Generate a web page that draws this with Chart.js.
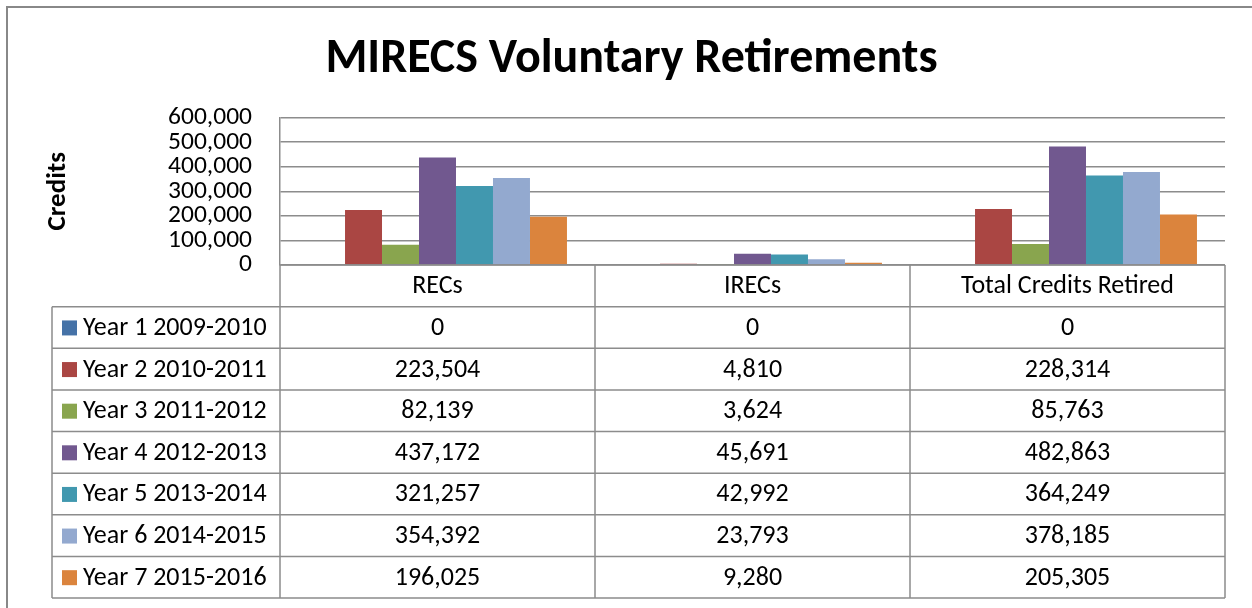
<!DOCTYPE html>
<html>
<head>
<meta charset="utf-8">
<script src="https://cdn.jsdelivr.net/npm/chart.js@4/dist/chart.umd.min.js"></script>
<style>
  html, body { margin: 0; padding: 0; background: #fff; }
  #wrap { width: 1252px; height: 608px; }
</style>
</head>
<body>
<div id="wrap"><canvas id="retChart" width="1252" height="608"></canvas></div>
<script>
const categories = ['RECs', 'IRECs', 'Total Credits Retired'];
const years = ['Year 1 2009-2010', 'Year 2 2010-2011', 'Year 3 2011-2012', 'Year 4 2012-2013',
               'Year 5 2013-2014', 'Year 6 2014-2015', 'Year 7 2015-2016'];
const recs = [0, 223504, 82139, 437172, 321257, 354392, 196025];
const irecs = [0, 4810, 3624, 45691, 42992, 23793, 9280];
const totals = [0, 228314, 85763, 482863, 364249, 378185, 205305];
const yTicks = [0, 100000, 200000, 300000, 400000, 500000, 600000];

const colors = ['#4572A7', '#AA4643', '#89A54E', '#71588F', '#4198AF', '#93A9CF', '#DB843D'];
const FONT = 'Carlito, Calibri, Lato, sans-serif';
const lineCol = '#8c8c8c';

const fmt = v => v.toLocaleString('en-US');

// frame around the whole chart (only top and left show in the picture)
const framePlugin = {
    id: 'frame',
    beforeDraw(chart) {
        const c = chart.ctx;
        c.save();
        c.strokeStyle = '#888';
        c.lineWidth = 2;
        c.beginPath();
        c.moveTo(7, chart.height);
        c.lineTo(7, 7);
        c.lineTo(chart.width, 7);
        c.stroke();
        c.restore();
    }
};

// data table under the plot, columns follow the x scale
const tablePlugin = {
    id: 'dataTable',
    afterDraw(chart) {
        const c = chart.ctx;
        const x = chart.scales.x;
        const area = chart.chartArea;
        const half = (x.getPixelForValue(1) - x.getPixelForValue(0)) / 2;
        const left = x.getPixelForValue(0) - half;
        const right = x.getPixelForValue(categories.length - 1) + half;
        const legLeft = left - 228;
        const top = area.bottom;
        const rowH = (chart.height - 10 - top) / (years.length + 1);
        const bottom = top + rowH * (years.length + 1);

        c.save();
        c.strokeStyle = lineCol;
        c.lineWidth = 1.5;
        c.beginPath();
        c.moveTo(left, top); c.lineTo(right, top);
        for (let r = 1; r <= years.length + 1; r++) {
            const y = top + rowH * r;
            c.moveTo(legLeft, y); c.lineTo(right, y);
        }
        c.moveTo(legLeft, top + rowH); c.lineTo(legLeft, bottom);
        for (let i = 0; i <= categories.length; i++) {
            const vx = left + half * 2 * i;
            c.moveTo(vx, top); c.lineTo(vx, bottom);
        }
        c.stroke();

        c.fillStyle = '#000';
        c.font = '26px ' + FONT;
        c.textBaseline = 'middle';
        c.textAlign = 'center';
        categories.forEach((cat, i) => {
            c.fillText(cat, x.getPixelForValue(i), top + rowH / 2 + 1);
        });
        chart.data.datasets.forEach((ds, r) => {
            const cy = top + rowH * (r + 1) + rowH / 2 + 1;
            c.fillStyle = ds.backgroundColor;
            c.fillRect(legLeft + 10, cy - 8, 15, 15);
            c.fillStyle = '#000';
            c.textAlign = 'left';
            c.fillText(ds.label, legLeft + 31, cy);
            c.textAlign = 'center';
            ds.data.forEach((v, i) => {
                c.fillText(fmt(v), x.getPixelForValue(i), cy);
            });
        });
        c.restore();
    }
};

const datasets = years.map((label, i) => ({
    label: label,
    data: [recs[i], irecs[i], totals[i]],
    backgroundColor: colors[i],
    borderWidth: 0,
    barPercentage: 1.0,
    categoryPercentage: 0.822
}));

new Chart(document.getElementById('retChart'), {
    type: 'bar',
    data: { labels: categories, datasets: datasets },
    options: {
        responsive: false,
        animation: false,
        layout: { padding: { left: 38, top: 0, right: 27, bottom: 343 } },
        plugins: {
            legend: { display: false },
            tooltip: { enabled: false },
            title: {
                display: true,
                text: 'MIRECS Voluntary Retirements',
                color: '#000',
                font: { family: FONT, size: 48, weight: 'bold', lineHeight: 1.2 },
                padding: { top: 31, bottom: 29 }
            }
        },
        scales: {
            x: {
                display: false
            },
            y: {
                min: 0,
                max: 600000,
                afterFit(scale) { scale.width = 242; },
                afterBuildTicks(scale) { scale.ticks = yTicks.map(v => ({ value: v })); },
                ticks: {
                    autoSkip: false,
                    padding: 28,
                    color: '#000',
                    font: { family: FONT, size: 25.5 },
                    callback: v => fmt(v)
                },
                grid: { color: lineCol, lineWidth: 1.5, drawTicks: false },
                border: { display: true, color: lineCol, width: 1.5 },
                title: {
                    display: true,
                    text: 'Credits',
                    color: '#000',
                    font: { family: FONT, size: 27, weight: 'bold', lineHeight: 1.2 },
                    padding: { top: 4, bottom: 0 }
                }
            }
        }
    },
    plugins: [framePlugin, tablePlugin]
});
</script>
</body>
</html>
